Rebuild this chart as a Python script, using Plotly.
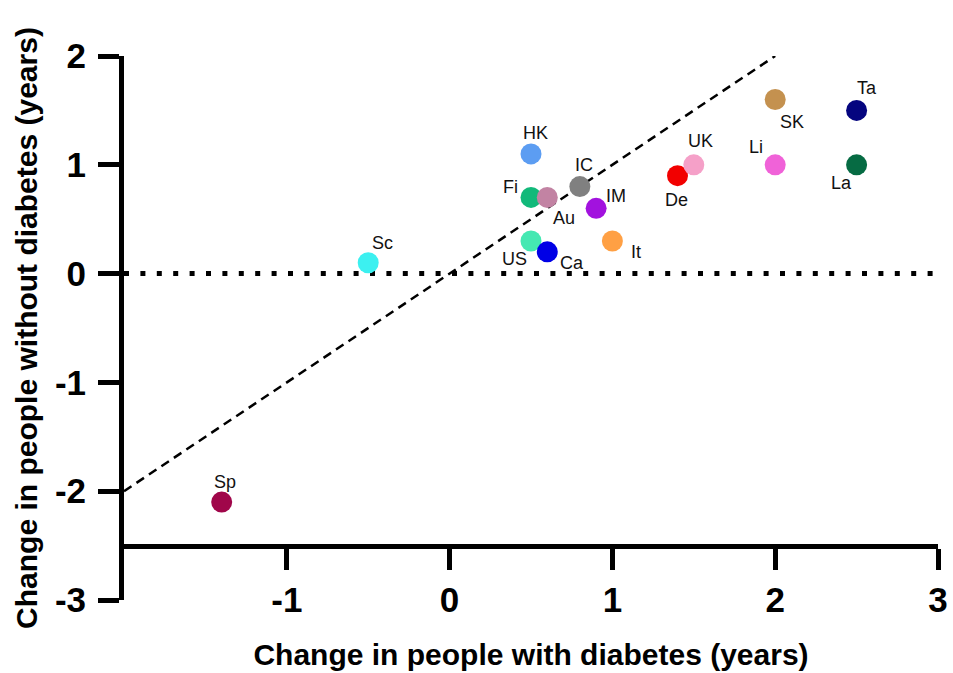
import plotly.graph_objects as go

# Country codes and the change in life expectancy for each group (years)
countries = ["Sp", "Sc", "HK", "Fi", "Au", "US", "Ca", "IC", "IM", "It",
             "De", "UK", "Li", "SK", "Ta", "La"]
with_diabetes = [-1.4, -0.5, 0.5, 0.5, 0.6, 0.5, 0.6, 0.8, 0.9, 1.0,
                 1.4, 1.5, 2.0, 2.0, 2.5, 2.5]
without_diabetes = [-2.1, 0.1, 1.1, 0.7, 0.7, 0.3, 0.2, 0.8, 0.6, 0.3,
                    0.9, 1.0, 1.0, 1.6, 1.5, 1.0]
colors = ["#A0064A", "#3CF0F0", "#5C9DF2", "#12B97A", "#C283A3", "#44E8B2",
          "#0000E6", "#808080", "#A212DE", "#FFA044", "#F20000", "#F5A0C8",
          "#F062D8", "#C4914F", "#05057F", "#066B43"]

x_ticks = [-1, 0, 1, 2, 3]
y_ticks = [-3, -2, -1, 0, 1, 2]

# Label offsets (pixels) from each marker
label_shift = {
    "Sp": (3, 20), "Sc": (14, 20), "HK": (4, 21), "Fi": (-21, 10),
    "Au": (17, -21), "US": (-17, -18), "Ca": (25, -11), "IC": (4, 22),
    "IM": (20, 12), "It": (24, -11), "De": (-1, -24), "UK": (7, 24),
    "Li": (-19, 18), "SK": (17, -22), "Ta": (10, 22), "La": (-15, -18),
}

FONT = "Liberation Sans, Arial, sans-serif"

fig = go.Figure()

# Line of identity
fig.add_trace(go.Scatter(
    x=[-2, 2], y=[-2, 2], mode="lines",
    line=dict(color="black", width=2.5, dash="9px,6px"),
    hoverinfo="skip", showlegend=False,
))

# Zero reference
fig.add_trace(go.Scatter(
    x=[-2, 3], y=[0, 0], mode="lines",
    line=dict(color="black", width=5, dash="5px,11.4px"),
    hoverinfo="skip", showlegend=False,
))

fig.add_trace(go.Scatter(
    x=with_diabetes, y=without_diabetes, mode="markers",
    marker=dict(size=21, color=colors, line=dict(width=0)),
    text=countries, hoverinfo="text", showlegend=False,
))

for name, xv, yv in zip(countries, with_diabetes, without_diabetes):
    dx, dy = label_shift[name]
    fig.add_annotation(
        x=xv, y=yv, text=name, showarrow=False,
        xshift=dx, yshift=dy,
        font=dict(family=FONT, size=18, color="#111111"),
    )

fig.update_layout(
    width=953, height=673,
    margin=dict(l=124, r=15, t=56, b=73),
    paper_bgcolor="white", plot_bgcolor="white",
    font=dict(family=FONT, color="black"),
    xaxis=dict(
        range=[-2, 3], anchor="free", position=0.1, automargin=False,
        tickvals=x_ticks, ticktext=[str(v) for v in x_ticks],
        showgrid=False, zeroline=False,
        showline=True, linewidth=5, linecolor="black",
        ticks="outside", ticklen=21, tickwidth=5, tickcolor="black",
        tickfont=dict(family=FONT, size=35, color="black", weight="bold"),
        title=dict(text="Change in people with diabetes (years)",
                   font=dict(family=FONT, size=30, color="black", weight="bold"),
                   standoff=26),
    ),
    yaxis=dict(
        range=[-3, 2], automargin=False,
        tickvals=y_ticks, ticktext=[str(v) for v in y_ticks],
        showgrid=False, zeroline=False,
        showline=True, linewidth=5, linecolor="black",
        ticks="outside", ticklen=21, tickwidth=5, tickcolor="black",
        ticklabelstandoff=5,
        tickfont=dict(family=FONT, size=35, color="black", weight="bold"),
        title=dict(text="Change in people without diabetes (years)",
                   font=dict(family=FONT, size=30, color="black", weight="bold"),
                   standoff=10),
    ),
)

fig.write_html("out.html")
